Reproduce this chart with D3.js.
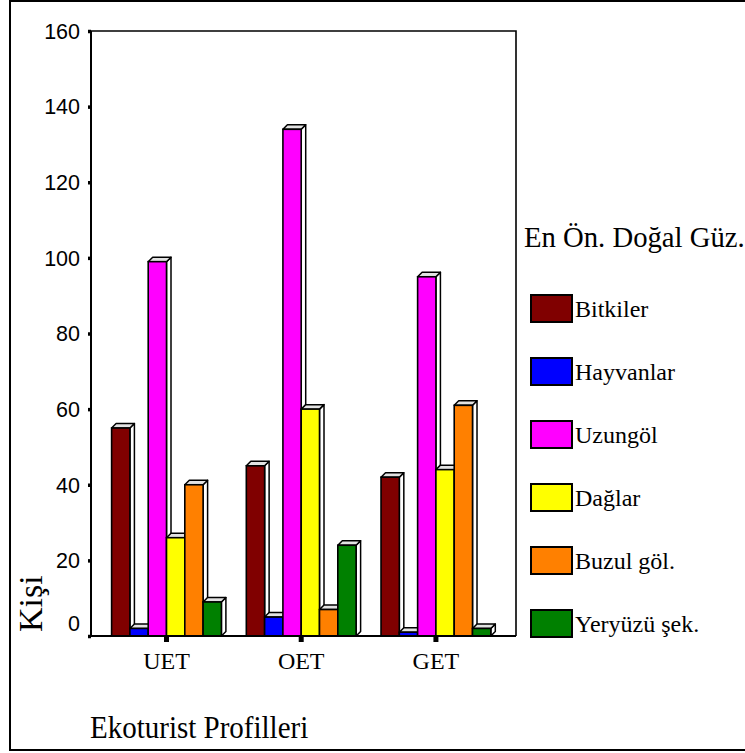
<!DOCTYPE html>
<html>
<head>
<meta charset="utf-8">
<script src="https://cdn.jsdelivr.net/npm/d3@7"></script>
<style>
  html, body { margin: 0; padding: 0; background: #fff; }
  svg { display: block; }
</style>
</head>
<body>
<svg id="chart" width="745" height="753"></svg>
<script>
// Profile groups along the x axis
const groups = ["UET", "OET", "GET"];
// Favourite natural attraction categories (legend order)
const series = ["Bitkiler", "Hayvanlar", "Uzungöl", "Dağlar", "Buzul göl.", "Yeryüzü şek."];
const colors = ["#800000", "#0000ff", "#ff00ff", "#ffff00", "#ff8000", "#008000"];
// Number of people per series, one entry per group (UET, OET, GET)
const bitkiler   = [55, 45, 42];
const hayvanlar  = [2, 5, 1];
const uzungol    = [99, 134, 95];
const daglar     = [26, 60, 44];
const buzulGol   = [40, 7, 61];
const yeryuzuSek = [9, 24, 2];
const yTicks = [0, 20, 40, 60, 80, 100, 120, 140, 160];

const valuesBySeries = [bitkiler, hayvanlar, uzungol, daglar, buzulGol, yeryuzuSek];

const serif = "'Liberation Serif', 'Times New Roman', serif";
const svg = d3.select("#chart");
const plot = { left: 91, right: 516, top: 31, bottom: 636 };
const depth = 4.5;

// outer frame
svg.append("rect")
  .attr("x", 10).attr("y", 1)
  .attr("width", 760).attr("height", 749)
  .attr("fill", "#fff").attr("stroke", "#000").attr("stroke-width", 2);

const y = d3.scaleLinear().domain([0, 160]).range([plot.bottom, plot.top]);
const x0 = d3.scaleBand().domain(groups)
  .range([plot.left, plot.right])
  .paddingInner(0.185).paddingOuter(0.17).align(0.45);
const x1 = d3.scaleBand().domain(series).range([0, x0.bandwidth()]);

// plot box (top and right edges)
svg.append("path")
  .attr("d", `M${plot.left},${plot.top}H${plot.right}V${plot.bottom}`)
  .attr("fill", "none").attr("stroke", "#000").attr("stroke-width", 1.6);

// 3D bars: side face, top face, then front face, drawn left to right
const barsG = svg.append("g");
groups.forEach((g, gi) => {
  series.forEach((s, si) => {
    const v = valuesBySeries[si][gi];
    const bx = x0(g) + x1(s);
    const w = x1.bandwidth();
    const yt = y(v);
    const yb = y(0);
    const bar = barsG.append("g");
    bar.append("polygon")
      .attr("points", [[bx + w, yt], [bx + w + depth, yt - depth], [bx + w + depth, yb - depth], [bx + w, yb]].join(" "))
      .attr("fill", "#fff").attr("stroke", "#000").attr("stroke-width", 1.5).attr("stroke-linejoin", "round");
    bar.append("polygon")
      .attr("points", [[bx, yt], [bx + depth, yt - depth], [bx + w + depth, yt - depth], [bx + w, yt]].join(" "))
      .attr("fill", "#e2e2e2").attr("stroke", "#000").attr("stroke-width", 1.5).attr("stroke-linejoin", "round");
    bar.append("rect")
      .attr("x", bx).attr("y", yt)
      .attr("width", w).attr("height", yb - yt)
      .attr("fill", colors[si]).attr("stroke", "#000").attr("stroke-width", 1.6);
  });
});

// y axis
const yAxis = svg.append("g")
  .attr("transform", `translate(${plot.left},0)`)
  .call(d3.axisLeft(y).tickValues(yTicks).tickSize(3).tickPadding(8));
yAxis.select(".domain").attr("stroke", "#000").attr("stroke-width", 2)
  .attr("d", `M0,${plot.top}V${plot.bottom}`);
yAxis.selectAll(".tick line").attr("stroke", "#000").attr("stroke-width", 3.5);
yAxis.selectAll(".tick text")
  .attr("font-family", "'Liberation Sans', Arial, sans-serif")
  .attr("font-size", 21.5).attr("fill", "#000")
  .attr("dy", d => d === 0 ? "-0.25em" : "0.34em");

// x axis
const xAxis = svg.append("g")
  .attr("transform", `translate(0,${plot.bottom})`)
  .call(d3.axisBottom(x0).tickSize(6).tickPadding(10));
xAxis.select(".domain").attr("stroke", "#000").attr("stroke-width", 2)
  .attr("d", `M${plot.left},0H${plot.right}`);
xAxis.selectAll(".tick line").attr("stroke", "#000").attr("stroke-width", 5);
xAxis.selectAll(".tick text")
  .attr("font-family", serif)
  .attr("font-size", 24).attr("fill", "#000");

// axis titles
svg.append("text")
  .attr("transform", "translate(42,632) rotate(-90)")
  .attr("font-family", serif)
  .attr("font-size", 34).attr("fill", "#000")
  .text("Kişi");

svg.append("text")
  .attr("transform", "translate(90,738) scale(1,1.08)")
  .attr("font-family", serif)
  .attr("font-size", 29).attr("fill", "#000")
  .text("Ekoturist Profilleri");

// legend
svg.append("text")
  .attr("x", 524).attr("y", 247)
  .attr("font-family", serif)
  .attr("font-size", 28.7).attr("fill", "#000")
  .text("En Ön. Doğal Güz.");

const legend = svg.append("g");
series.forEach((s, i) => {
  const ly = 295 + i * 63;
  legend.append("rect")
    .attr("x", 531).attr("y", ly)
    .attr("width", 41).attr("height", 27)
    .attr("fill", colors[i]).attr("stroke", "#000").attr("stroke-width", 2);
  legend.append("text")
    .attr("x", 575).attr("y", ly + 22)
    .attr("font-family", serif)
    .attr("font-size", 24).attr("fill", "#000")
    .text(s);
});
</script>
</body>
</html>
